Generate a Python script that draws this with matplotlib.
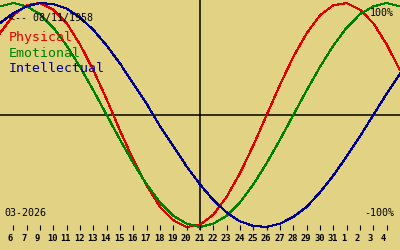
import numpy as np
import matplotlib
matplotlib.use("Agg")
import matplotlib.pyplot as plt

# biorhythm chart, values in percent (one per day)
days = np.arange(6, 37)
physical = [73, 89, 98, 100, 94, 82, 63, 40, 14, -14, -40, -63, -82, -94, -100, -98,
            -89, -73, -52, -27, 0, 27, 52, 73, 89, 98, 100, 94, 82, 63, 40]
emotional = [97, 100, 97, 90, 78, 62, 43, 22, 0, -22, -43, -62, -78, -90, -97, -100,
             -97, -90, -78, -62, -43, -22, 0, 22, 43, 62, 78, 90, 97, 100, 97]
intellectual = [82, 91, 97, 100, 99, 95, 87, 76, 62, 46, 28, 10, -10, -28, -46, -62,
                -76, -87, -95, -99, -100, -97, -91, -82, -69, -54, -37, -19, 0, 19, 37]

tick_days = list(range(7, 36))
tick_labels = ["6", "7", "9"] + [str(d) for d in range(10, 32)] + ["1", "2", "3", "4"]

center_day = 21
birth = "08/11/1958"
month = "03-2026"

bg = "#e1d383"
red = "#e00000"
green = "#008000"
blue = "#000090"
mono = "DejaVu Sans Mono"

W, H = 400, 250


def pv(p):
    # pixel row -> percent value (zero line at row 115, 1.12 px per %)
    return (115 - p) / 1.12


fig = plt.figure(figsize=(W / 100, H / 100), dpi=100, facecolor=bg)
ax = fig.add_axes([0, 0, 1, 1])
ax.set_xlim(days[0], days[-1])
ax.set_ylim(pv(H), pv(0))
ax.axis("off")

# crosshair
ax.axhline(0, color="black", lw=1.1)
ax.vlines(center_day, pv(230), pv(0), color="black", lw=1.1)

ax.plot(days, physical, color=red, lw=0.8, antialiased=False)
ax.plot(days, emotional, color=green, lw=0.8, antialiased=False)
ax.plot(days, intellectual, color=blue, lw=0.8, antialiased=False)

# day ticks along the bottom
ax.vlines(tick_days, pv(230), pv(225), color="black", lw=0.8)
day_px = W / (days[-1] - days[0])
for d, lab in zip(tick_days, tick_labels):
    shift = -3.0 if len(lab) == 1 else -0.7
    ax.text(d + shift / day_px, pv(241), lab, ha="center", va="baseline",
            family=mono, fontsize=6.3, fontweight="bold", color="black")


def ftext(x, y, s, **kw):
    fig.text(x / W, 1 - y / H, s, va="baseline", family=mono, **kw)


ftext(9, 21, "<-- " + birth, fontsize=7.2, color="black")
ftext(9, 41.5, "Physical", fontsize=9.5, color=red)
ftext(9, 57, "Emotional", fontsize=9.5, color=green)
ftext(9, 72.5, "Intellectual", fontsize=9.5, color=blue)
ftext(394, 16, "100%", fontsize=7.2, color="black", ha="right")
ftext(394, 216, "-100%", fontsize=7.2, color="black", ha="right")
ftext(4, 216, month, fontsize=7.2, color="black")

fig.savefig("out.png", dpi=100, facecolor=bg)
